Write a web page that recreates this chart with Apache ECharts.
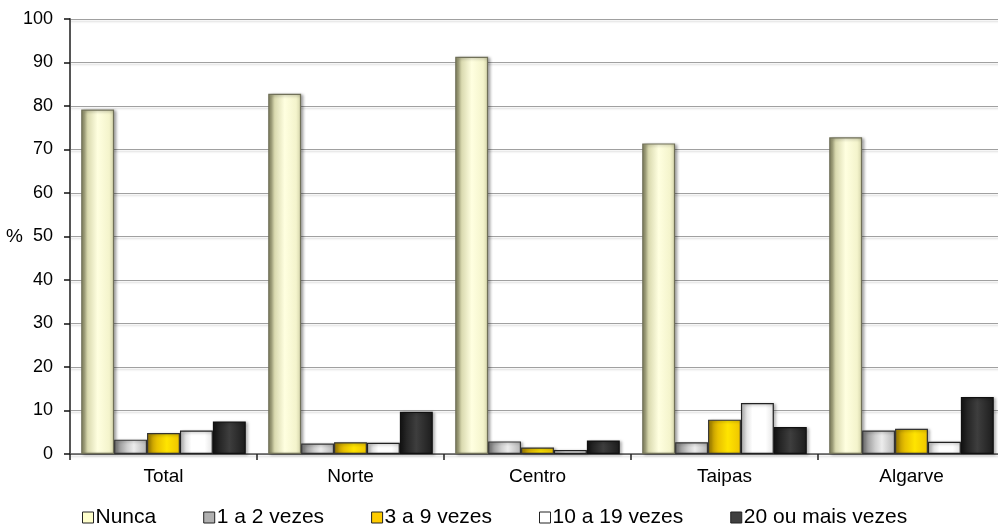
<!DOCTYPE html>
<html>
<head>
<meta charset="utf-8">
<script src="https://cdn.jsdelivr.net/npm/echarts@6/dist/echarts.min.js"></script>
<style>html,body{margin:0;padding:0;background:#fff}#c{width:998px;height:527px}</style>
</head>
<body>
<div id="c"></div>
<script>
const categories = ['Total', 'Norte', 'Centro', 'Taipas', 'Algarve'];
const seriesNames = ['Nunca', '1 a 2 vezes', '3 a 9 vezes', '10 a 19 vezes', '20 ou mais vezes'];
const nunca = [79.2, 82.8, 91.3, 71.4, 72.8];
const vezes1a2 = [3.3, 2.4, 2.9, 2.7, 5.4];
const vezes3a9 = [4.8, 2.7, 1.5, 7.9, 5.8];
const vezes10a19 = [5.4, 2.6, 0.9, 11.7, 2.8];
const vezes20mais = [7.5, 9.7, 3.1, 6.2, 13.1];
const yTicks = [0, 10, 20, 30, 40, 50, 60, 70, 80, 90, 100];

const values = [nunca, vezes1a2, vezes3a9, vezes10a19, vezes20mais];

function grad(stops) {
  return new echarts.graphic.LinearGradient(0, 0, 1, 0, stops.map(s => ({offset: s[0], color: s[1]})));
}
const fills = [
  grad([[0,'#84845e'],[0.2,'#dadab0'],[0.5,'#ffffe0'],[0.85,'#f4f4cc'],[1,'#d2d2a8']]),
  grad([[0,'#7a7a7a'],[0.4,'#cfcfcf'],[0.6,'#ececec'],[1,'#b4b4b4']]),
  grad([[0,'#a88400'],[0.3,'#e8c000'],[0.6,'#ffe400'],[1,'#eec400']]),
  grad([[0,'#c8c8c8'],[0.35,'#ffffff'],[0.75,'#ffffff'],[1,'#e4e4e4']]),
  grad([[0,'#151515'],[0.5,'#3e3e3e'],[1,'#1c1c1c']])
];
const borders = ['#707058', '#333333', '#333333', '#222222', '#111111'];
const legendColors = ['#ffffcc', '#b0b0b0', '#ffcc00', '#ffffff', '#404040'];

const chart = echarts.init(document.getElementById('c'), null, {renderer: 'canvas'});
const font = 'Arial, "Liberation Sans", sans-serif';

chart.setOption({
  animation: false,
  backgroundColor: '#ffffff',
  grid: {left: 70, width: 935, top: 19, height: 435, containLabel: false, outerBoundsMode: 'none'},
  legend: {
    left: 82,
    top: 507,
    padding: 0,
    itemWidth: 11,
    itemHeight: 11,
    itemGap: 47,
    icon: 'rect',
    textStyle: {fontFamily: font, fontSize: 21, color: '#000', padding: [0, 0, 0, -3]},
    data: seriesNames.map((n, i) => ({
      name: n,
      itemStyle: {color: legendColors[i], borderColor: '#222', borderWidth: 1, shadowBlur: 0, shadowOffsetX: 0, shadowOffsetY: 0}
    }))
  },
  xAxis: {
    type: 'category',
    data: categories,
    axisLine: {lineStyle: {color: '#555', width: 1.5}},
    axisTick: {show: true, length: 6, lineStyle: {color: '#222', width: 1.5}},
    axisLabel: {fontFamily: font, fontSize: 19, color: '#000', margin: 13}
  },
  yAxis: {
    type: 'value',
    min: yTicks[0],
    max: yTicks[yTicks.length - 1],
    interval: 10,
    name: '%',
    nameLocation: 'middle',
    nameRotate: 0,
    nameGap: 47,
    nameMoveOverlap: false,
    nameTextStyle: {fontFamily: font, fontSize: 19, color: '#000', padding: [0, 0, 12, 0]},
    axisLine: {show: true, lineStyle: {color: '#555', width: 2}},
    axisTick: {show: true, inside: false, length: 6, lineStyle: {color: '#111', width: 1.5}},
    axisLabel: {fontFamily: font, fontSize: 18, color: '#000', margin: 17},
    splitLine: {show: true, lineStyle: {color: '#a0a0a0', width: 1.2, shadowColor: 'rgba(0,0,0,0.18)', shadowBlur: 2, shadowOffsetY: 2}}
  },
  series: seriesNames.map((n, i) => ({
    name: n,
    type: 'bar',
    data: values[i],
    barGap: '0%',
    barCategoryGap: '12%',
    itemStyle: {
      color: fills[i],
      borderColor: borders[i],
      borderWidth: 1.2,
      shadowColor: 'rgba(0,0,0,0.35)',
      shadowBlur: 3,
      shadowOffsetX: 2,
      shadowOffsetY: 1
    }
  }))
});
</script>
</body>
</html>
